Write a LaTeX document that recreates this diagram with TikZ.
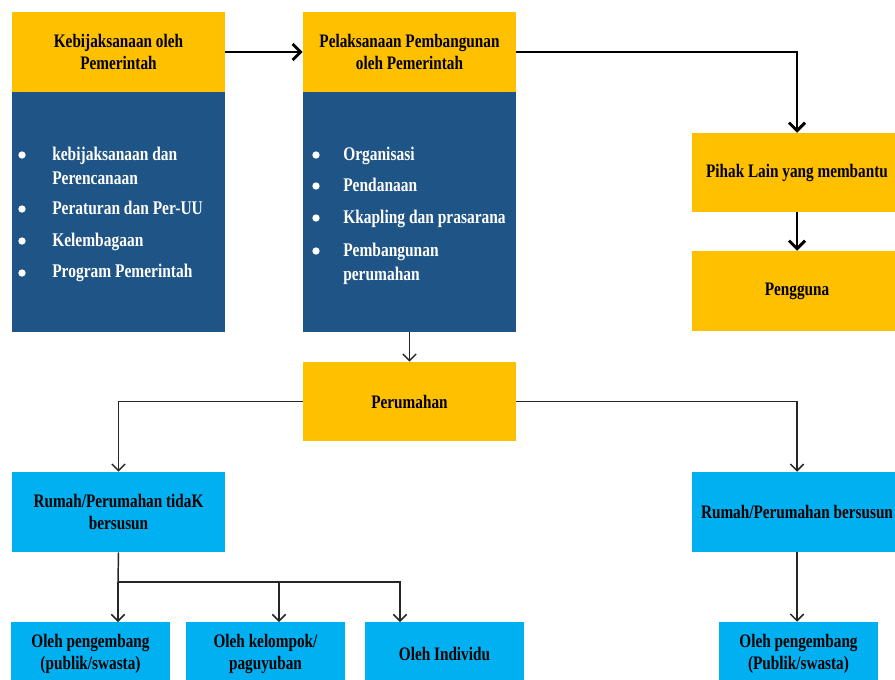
\documentclass[tikz,border=0pt]{standalone}
\usepackage{fontspec}
\setmainfont{Liberation Serif}[FakeStretch=0.8]
\usetikzlibrary{arrows.meta}
\definecolor{hdrY}{HTML}{FFC000}
\definecolor{bodyB}{HTML}{1F5486}
\definecolor{cyanB}{HTML}{00B0F0}
\tikzset{
  hbox/.style={fill=hdrY, draw=none, minimum width=159.75pt, minimum height=60pt, inner sep=0, align=center, font=\fontsize{14.3}{16.5}\selectfont\bfseries, text=black},
  bbox/.style={fill=bodyB, draw=none, minimum width=159.75pt, minimum height=180pt, inner sep=0},
  cbox/.style={fill=cyanB, draw=none, minimum width=159.75pt, minimum height=60pt, inner sep=0, align=center, font=\fontsize{14.3}{16.5}\selectfont\bfseries, text=black},
  sbox/.style={fill=cyanB, draw=none, minimum width=119.25pt, minimum height=48pt, inner sep=0, align=center, font=\fontsize{14.3}{16.5}\selectfont\bfseries, text=black},
  item/.style={anchor=mid west, inner sep=0, text=white, font=\fontsize{14.5}{17}\selectfont\bfseries},
  dot/.style={circle, fill=white, inner sep=0, minimum size=5.5pt},
  thickarr/.style={line width=2.2pt, -{Straight Barb[length=6pt,width=12pt,line width=2.2pt]}},
  thinarr/.style={line width=1.1pt, black!85, -{Straight Barb[length=5pt,width=10pt,line width=1.1pt]}},
  thinline/.style={line width=1.1pt, black!85},
}
\begin{document}
\begin{tikzpicture}[x=0.75pt, y=-0.75pt]
\useasboundingbox (0,0) rectangle (895,679);
\clip (0,0) rectangle (895,679);
% top boxes
\node[bbox] (k1b) at (118.5,212) {};
\node[hbox] (k1h) at (118.5,52) {Kebijaksanaan oleh\\Pemerintah};
\node[bbox] (p1b) at (409.5,212) {};
\node[hbox] (p1h) at (409.5,52) {Pelaksanaan Pembangunan\\oleh Pemerintah};
% bullets box 1
\node[dot] (d1) at (22,155) {};
\node[item] (t1a) at (52,157) {kebijaksanaan dan};
\node[item] (t1b) at (52,181) {Perencanaan};
\node[dot] (d2) at (22,209) {};
\node[item] (t2) at (52,211) {Peraturan dan Per-UU};
\node[dot] (d3) at (22,241) {};
\node[item] (t3) at (52,243) {Kelembagaan};
\node[dot] (d4) at (22,273) {};
\node[item] (t4) at (52,274) {Program Pemerintah};
% bullets box 2
\node[dot] (e1) at (316,155) {};
\node[item] (u1) at (343,157) {Organisasi};
\node[dot] (e2) at (316,186) {};
\node[item] (u2) at (343,188) {Pendanaan};
\node[dot] (e3) at (316,218) {};
\node[item] (u3) at (343,220) {Kkapling dan prasarana};
\node[dot] (e4) at (316,251) {};
\node[item] (u4a) at (343,253) {Pembangunan};
\node[item] (u4b) at (343,277) {perumahan};
% right column
\node[hbox, minimum width=157.5pt, minimum height=59.25pt] (pihak) at (797,172.5) {Pihak Lain yang membantu};
\node[hbox, minimum width=157.5pt] (pengguna) at (797,291) {Pengguna};
% middle
\node[hbox, minimum height=59.25pt] (perum) at (409.5,401.5) {Perumahan};
\node[cbox] (rt) at (118.5,512) {Rumah/Perumahan tidaK\\bersusun};
\node[cbox, minimum width=157.5pt] (rb) at (797,512) {Rumah/Perumahan bersusun};
% bottom
\node[sbox] (o1) at (90.5,654) {Oleh pengembang\\(publik/swasta)};
\node[sbox] (o2) at (265.5,654) {Oleh kelompok/\\paguyuban};
\node[sbox] (o3) at (444.5,654) {Oleh Individu};
\node[sbox] (o4) at (798.5,654) {Oleh pengembang\\(Publik/swasta)};
% connectors
\draw[thickarr] (k1h.east) -- (p1h.west);
\draw[thickarr] (p1h.east) -| (pihak.north);
\draw[thickarr] (pihak.south) -- (pengguna.north);
\draw[thinarr] (p1b.south) -- (perum.north);
\draw[thinarr] (perum.west) -| (rt.north);
\draw[thinarr] (perum.east) -| (rb.north);
\coordinate (j) at (118,582);
\coordinate (a1) at (118,622);
\coordinate (a2) at (279,622);
\coordinate (a3) at (400,622);
\draw[thinline] (rt.south) -- (j);
\draw[thinarr] (j) -- (a1);
\draw[thinarr] (j) -| (a2);
\draw[thinarr] (j) -| (a3);
\draw[thinarr] (rb.south) -- (rb.south |- o4.north);
\end{tikzpicture}
\end{document}
